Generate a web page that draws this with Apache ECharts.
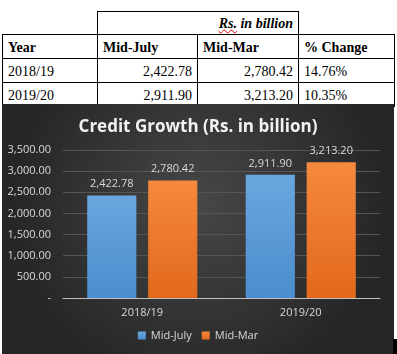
<!DOCTYPE html>
<html>
<head>
<meta charset="utf-8">
<script src="https://cdn.jsdelivr.net/npm/echarts@6/dist/echarts.min.js"></script>
<style>
  html, body { margin: 0; padding: 0; background: #fff; width: 397px; height: 354px; overflow: hidden; }
  #tbl { position: absolute; left: 2px; top: 11px; border-collapse: collapse; font-family: "Liberation Serif", "Times New Roman", serif; font-size: 14px; color: #000; }
  #tbl td { padding: 0 5px 1px 5px; height: 24px; box-sizing: border-box; vertical-align: bottom; line-height: 18px; }
  #tbl tr.top td { height: 23px; }
  #tbl tr.r td { border: 1px solid #000; }
  #tbl td.num { text-align: right; }
  #tbl tr.h td { font-weight: bold; }
  .unit { font-weight: bold; font-style: italic; }
  .sq { text-decoration: underline wavy #e00000; text-decoration-thickness: 1px; }
  #chart { position: absolute; left: 2px; top: 104px; width: 392px; height: 250px; }
  #blk { position: absolute; left: 393px; top: 339px; width: 4px; height: 15px; background: #000; }
</style>
</head>
<body>
<table id="tbl">
  <colgroup><col style="width:95px"><col style="width:100px"><col style="width:101px"><col style="width:96px"></colgroup>
  <tr class="top">
    <td style="border-bottom:1px solid #000"></td>
    <td colspan="2" class="num" style="border:1px solid #000;"><span class="unit"><span class="sq">Rs.</span> in billion</span></td>
    <td style="border-bottom:1px solid #000"></td>
  </tr>
  <tr class="r h" id="hdr"></tr>
  <tr class="r" id="row0"></tr>
  <tr class="r" id="row1"></tr>
</table>
<div id="chart"></div>
<div id="blk"></div>
<script>
var years = ['2018/19', '2019/20'];
var midJuly = [2422.78, 2911.90];
var midMar = [2780.42, 3213.20];
var pctChange = ['14.76%', '10.35%'];
var headers = ['Year', 'Mid-July', 'Mid-Mar', '% Change'];

function fmt(v) {
    return v.toLocaleString('en-US', {minimumFractionDigits: 2, maximumFractionDigits: 2});
}

// table
var hdr = document.getElementById('hdr');
headers.forEach(function (h) {
    var td = document.createElement('td');
    td.textContent = h;
    hdr.appendChild(td);
});
years.forEach(function (y, i) {
    var tr = document.getElementById('row' + i);
    var cells = [y, fmt(midJuly[i]), fmt(midMar[i]), pctChange[i]];
    cells.forEach(function (c, j) {
        var td = document.createElement('td');
        td.textContent = c;
        if (j == 1 || j == 2) td.className = 'num';
        tr.appendChild(td);
    });
});

// chart
var dom = document.getElementById('chart');
var myChart = echarts.init(dom);
var labelStyle = {
    show: true,
    position: 'top',
    distance: 6,
    color: '#d9d9d9',
    fontSize: 11,
    fontFamily: 'Open Sans',
    formatter: function (p) { return fmt(p.value); }
};
option = {
    backgroundColor: {
        type: 'radial', x: 0.5, y: 0.4, r: 0.75,
        colorStops: [{offset: 0, color: '#474747'}, {offset: 1, color: '#262626'}]
    },
    title: {
        text: 'Credit Growth (Rs. in billion)',
        left: 'center',
        top: 10,
        textStyle: {color: '#f2f2f2', fontSize: 17, fontWeight: 'bold', fontFamily: 'Open Sans'}
    },
    legend: {
        bottom: 8,
        left: 'center',
        itemWidth: 8,
        itemHeight: 8,
        itemGap: 10,
        icon: 'rect',
        textStyle: {color: '#d9d9d9', fontSize: 11, fontFamily: 'Open Sans'},
        data: ['Mid-July', 'Mid-Mar']
    },
    grid: {left: 61, right: 14, top: 46, bottom: 56},
    xAxis: {
        type: 'category',
        data: years,
        axisLine: {lineStyle: {color: '#bfbfbf'}},
        axisTick: {show: false},
        axisLabel: {color: '#d9d9d9', fontSize: 11, fontFamily: 'Open Sans', margin: 9}
    },
    yAxis: {
        type: 'value',
        min: 0,
        max: 3500,
        interval: 500,
        axisLine: {show: false},
        axisTick: {show: false},
        splitLine: {lineStyle: {color: '#555555'}},
        axisLabel: {
            color: '#d9d9d9', fontSize: 11, fontFamily: 'Open Sans', margin: 12,
            formatter: function (v) { return v === 0 ? '-' : fmt(v); }
        }
    },
    series: [
        {
            name: 'Mid-July',
            type: 'bar',
            barWidth: '31%',
            barGap: '24%',
            data: midJuly,
            itemStyle: {color: new echarts.graphic.LinearGradient(0, 0, 0, 1, [
                {offset: 0, color: '#6aa6df'}, {offset: 1, color: '#4b8dcd'}])},
            label: labelStyle
        },
        {
            name: 'Mid-Mar',
            type: 'bar',
            barWidth: '31%',
            data: midMar,
            itemStyle: {color: new echarts.graphic.LinearGradient(0, 0, 0, 1, [
                {offset: 0, color: '#f5893d'}, {offset: 1, color: '#e2691c'}])},
            label: labelStyle
        }
    ]
};
myChart.setOption(option, true);
</script>
</body>
</html>
